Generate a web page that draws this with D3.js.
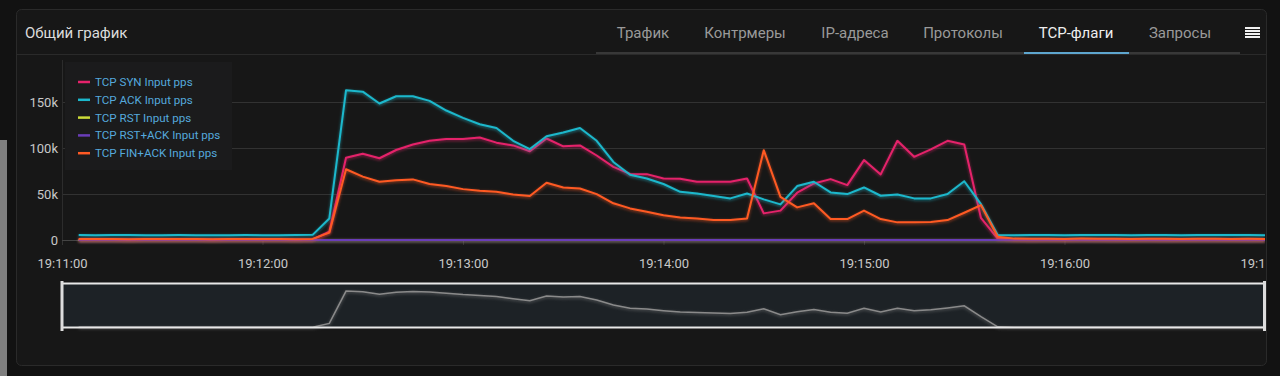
<!DOCTYPE html>
<html>
<head>
<meta charset="utf-8">
<script src="https://cdn.jsdelivr.net/npm/d3@7"></script>
<style>
  html, body { margin: 0; padding: 0; background: #121212; }
  svg { display: block; font-family: Roboto, "Noto Sans", sans-serif; }
</style>
</head>
<body>
<svg id="chart" width="1280" height="376"></svg>
<script>
// time axis: one point every 5 s, starting 19:11:05
var startTime = new Date(2024, 0, 1, 19, 11, 0);
var stepMs = 5000;
var domainEnd = new Date(2024, 0, 1, 19, 17, 0);

var tabs = ['Трафик', 'Контрмеры', 'IP-адреса', 'Протоколы', 'TCP-флаги', 'Запросы'];
var activeTab = 'TCP-флаги';
var yTicks = [0, 50000, 100000, 150000];

var seriesNames = ['TCP SYN Input pps', 'TCP ACK Input pps', 'TCP RST Input pps', 'TCP RST+ACK Input pps', 'TCP FIN+ACK Input pps'];
var seriesColors = ['#e5226b', '#1cb8cc', '#cddc39', '#6a3db8', '#ff5a24'];

var synPps = [500,600,500,400,500,600,500,500,400,500,600,500,500,400,600,
  9000,89500,94000,89000,98000,104000,108000,110000,110000,111600,106000,103000,96700,110500,102000,103000,92000,79700,72000,
  71700,67000,66700,63400,63400,63400,67000,29000,32000,51500,61600,66300,59800,87000,71400,108000,90600,98600,108000,104000,24000,1500,
  500,400,500,500,600,500,400,500,500,400,500,600,500,500,400,500];
var ackPps = [5400,5300,5400,5500,5300,5200,5400,5300,5200,5300,5400,5200,5300,5500,5600,
  23500,163000,161500,148600,156500,156500,151500,141000,133000,126000,122000,108000,99000,113000,117000,122000,108000,85000,71000,
  67000,61000,52500,50700,47800,45300,50700,44200,38800,58700,63400,51800,50000,57200,48200,49600,45300,45300,50000,64000,39000,5400,
  5300,5400,5400,5300,5400,5500,5400,5300,5400,5400,5300,5400,5500,5400,5400,5300];
var rstPps = [0,0,0,0,0,0,0,0,0,0,0,0,0,0,0,0,0,0,0,0,0,0,0,0,0,0,0,0,0,0,0,0,0,0,0,0,
  0,0,0,0,0,0,0,0,0,0,0,0,0,0,0,0,0,0,0,0,0,0,0,0,0,0,0,0,0,0,0,0,0,0,0,0];
var rstAckPps = [0,0,0,0,0,0,0,0,0,0,0,0,0,0,0,0,0,0,0,0,0,0,0,0,0,0,0,0,0,0,0,0,0,0,0,0,
  0,0,0,0,0,0,0,0,0,0,0,0,0,0,0,0,0,0,0,0,0,0,0,0,0,0,0,0,0,0,0,0,0,0,0,0];
var finAckPps = [1000,1100,1000,900,1000,1100,1000,1000,900,1000,1100,1000,1000,900,1200,
  8000,77000,69000,63400,65000,66000,61000,58700,55400,53600,52500,49600,48000,62300,57200,56000,50000,40000,34400,
  30800,27000,24600,23500,21700,21700,23500,97800,47000,35500,40000,22800,22800,32000,22800,19200,19200,19600,21700,29700,38000,3600,
  1500,1400,1300,1200,1500,1400,1300,1200,1300,1400,1200,1300,1300,1200,1300,1200];

var allSeries = [synPps, ackPps, rstPps, rstAckPps, finAckPps];
var times = synPps.map((d, i) => new Date(startTime.getTime() + (i + 1) * stepMs));
// navigator shows the total of all series
var totals = times.map((t, i) => d3.sum(allSeries, s => s[i]));

var svg = d3.select('#chart');

var defs = svg.append('defs');
var glow = defs.append('filter').attr('id', 'glow')
  .attr('filterUnits', 'userSpaceOnUse').attr('x', 0).attr('y', 0).attr('width', 1280).attr('height', 376);
glow.append('feGaussianBlur').attr('in', 'SourceGraphic').attr('stdDeviation', 1.8).attr('result', 'b');
glow.append('feOffset').attr('in', 'b').attr('dy', 1).attr('result', 'o');
glow.append('feComponentTransfer').attr('in', 'o').attr('result', 'f')
  .append('feFuncA').attr('type', 'linear').attr('slope', 0.6);
var merge = glow.append('feMerge');
merge.append('feMergeNode').attr('in', 'f');
merge.append('feMergeNode').attr('in', 'SourceGraphic');

defs.append('clipPath').attr('id', 'plotClip').append('rect')
  .attr('x', 16).attr('y', 55).attr('width', 1249).attr('height', 300);

// page + panel
svg.append('rect').attr('width', 1280).attr('height', 376).attr('fill', '#121212');
svg.append('rect').attr('x', 0).attr('y', 140).attr('width', 7).attr('height', 236).attr('fill', '#7f7f7f');
svg.append('rect').attr('x', 16.5).attr('y', 9.5).attr('width', 1250).attr('height', 356).attr('rx', 5)
  .attr('fill', '#171717').attr('stroke', '#2a2a2a');

svg.append('text').attr('x', 25).attr('y', 38).attr('fill', '#dcdcdc').attr('font-size', 15).text('Общий график');

svg.append('line').attr('x1', 17).attr('x2', 1266).attr('y1', 54.5).attr('y2', 54.5).attr('stroke', '#2a2a2a');
svg.append('line').attr('x1', 596).attr('x2', 1240).attr('y1', 53).attr('y2', 53).attr('stroke', '#383838').attr('stroke-width', 2);

var tabCenters = [643, 745, 855, 963, 1076, 1180];
svg.selectAll('.tab').data(tabs).enter().append('text')
  .attr('class', 'tab')
  .attr('x', (d, i) => tabCenters[i]).attr('y', 38)
  .attr('text-anchor', 'middle').attr('font-size', 15)
  .attr('fill', d => d === activeTab ? '#eeeeee' : '#9a9a9a')
  .text(d => d);
svg.append('line').attr('x1', 1024).attr('x2', 1129).attr('y1', 53).attr('y2', 53)
  .attr('stroke', '#5ea6cf').attr('stroke-width', 2);

// hamburger icon
svg.selectAll('.burger').data([0, 1, 2, 3]).enter().append('rect')
  .attr('x', 1245).attr('y', d => 27 + d * 3).attr('width', 15).attr('height', 2).attr('fill', '#f0f0f0');

// scales
var x = d3.scaleTime().domain([startTime, domainEnd]).range([62, 1265]);
var y = d3.scaleLinear().domain([0, 196000]).range([240, 60]);

// navigator background (under the clipped plot group)
svg.append('rect').attr('x', 62).attr('y', 283).attr('width', 1202).attr('height', 45).attr('fill', '#1d2226');

var plot = svg.append('g').attr('clip-path', 'url(#plotClip)');

// grid
plot.selectAll('.grid').data(yTicks.filter(d => d > 0)).enter().append('line')
  .attr('x1', 62).attr('x2', 1265)
  .attr('y1', d => Math.round(y(d)) + 0.5).attr('y2', d => Math.round(y(d)) + 0.5)
  .attr('stroke', '#323232');
plot.append('line').attr('x1', 62).attr('x2', 1265).attr('y1', 240.5).attr('y2', 240.5).attr('stroke', '#444');
plot.append('line').attr('x1', 62.5).attr('x2', 62.5).attr('y1', 60).attr('y2', 240).attr('stroke', '#2c2c2c');

// y axis labels
var yAxis = d3.axisLeft(y).tickValues(yTicks).tickSize(0).tickPadding(4)
  .tickFormat(d => d === 0 ? '0' : (d / 1000) + 'k');
var yg = svg.append('g').attr('transform', 'translate(58,0)').call(yAxis);
yg.select('.domain').remove();
yg.selectAll('text').attr('fill', '#c8c8c8').attr('font-size', 13).attr('font-family', 'Roboto, sans-serif').attr('dx', 4);

// x axis
var xAxis = d3.axisBottom(x).ticks(d3.timeMinute.every(1)).tickFormat(d3.timeFormat('%H:%M:%S'))
  .tickSize(4).tickPadding(14);
var xg = plot.append('g').attr('transform', 'translate(0,241)').call(xAxis);
xg.select('.domain').remove();
xg.selectAll('line').attr('stroke', '#333');
xg.selectAll('text').attr('fill', '#c8c8c8').attr('font-size', 13).attr('font-family', 'Roboto, sans-serif');

// legend box
plot.append('rect').attr('x', 65).attr('y', 62).attr('width', 167).attr('height', 108).attr('fill', '#1b1b1c');

// series lines
var line = d3.line().x((d, i) => x(times[i])).y(d => y(d));
plot.selectAll('.series').data(allSeries).enter().append('path')
  .attr('class', 'series')
  .attr('d', d => line(d))
  .attr('fill', 'none')
  .attr('stroke', (d, i) => seriesColors[i])
  .attr('stroke-width', 2)
  .attr('stroke-linejoin', 'round')
  .attr('filter', 'url(#glow)');

// legend items
var leg = svg.selectAll('.leg').data(seriesNames).enter().append('g')
  .attr('class', 'leg')
  .attr('transform', (d, i) => 'translate(0,' + (82 + i * 17.8) + ')');
leg.append('line').attr('x1', 78).attr('x2', 90).attr('y1', 0).attr('y2', 0)
  .attr('stroke', (d, i) => seriesColors[i]).attr('stroke-width', 2.5);
leg.append('text').attr('x', 95).attr('y', 4).attr('font-size', 11.6).attr('fill', '#55a9dc').text(d => d);

// navigator line + outline
var navY = d3.scaleLinear().domain([0, d3.max(totals) * 1.22]).range([328, 283]);
var navLine = d3.line().x((d, i) => x(times[i])).y(d => navY(d));
plot.append('path').attr('d', navLine(totals)).attr('fill', 'none')
  .attr('stroke', '#8a8a8a').attr('stroke-width', 1.5).attr('filter', 'url(#glow)');
svg.append('line').attr('x1', 62).attr('x2', 1264).attr('y1', 283.5).attr('y2', 283.5).attr('stroke', '#e8e8e8').attr('stroke-width', 2);
svg.append('line').attr('x1', 62).attr('x2', 1264).attr('y1', 327.5).attr('y2', 327.5).attr('stroke', '#e8e8e8').attr('stroke-width', 2);
svg.append('rect').attr('x', 60.5).attr('y', 281).attr('width', 3).attr('height', 50).attr('fill', '#dddddd');
svg.append('rect').attr('x', 1263).attr('y', 281).attr('width', 3).attr('height', 50).attr('fill', '#dddddd');
</script>
</body>
</html>
